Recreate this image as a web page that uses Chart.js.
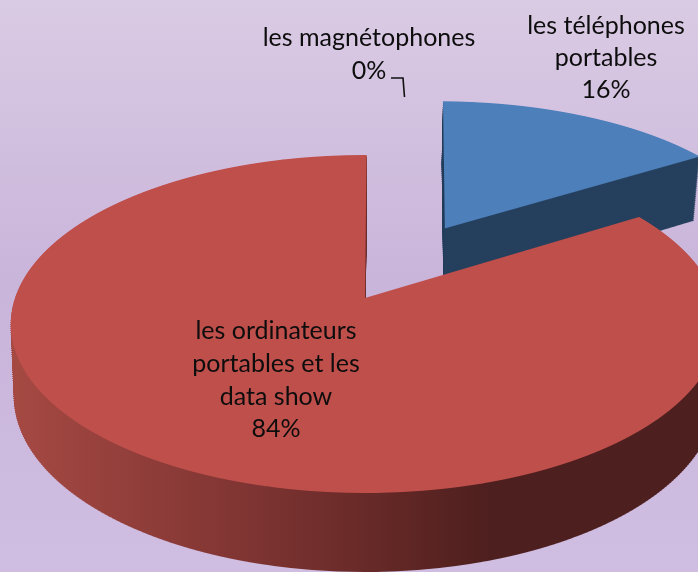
<!DOCTYPE html>
<html><head><meta charset="utf-8">
<style>html,body{margin:0;padding:0;background:#cdb9dd}canvas{display:block}</style>
<script src="https://cdn.jsdelivr.net/npm/chart.js@4"></script>
</head><body>
<canvas id="c" width="698" height="572"></canvas>
<script>
const categories = ["les téléphones portables", "les ordinateurs portables et les data show", "les magnétophones"];
const shares = [16, 84, 0];
const labelLines = [["les téléphones", "portables", "16%"], ["les ordinateurs", "portables et les", "data show", "84%"], ["les magnétophones", "0%"]];
const topColors = ["#4D7FBA", "#BF4F4B", "#9BBB59"];
const wallColors = ["#26405E", null, "#5f7036"];

const labelCentres = [606, 276, 369];
const labelBaselines = [[34, 66, 98], [339, 372, 405, 437], [46, 79]];
const leader = [[391, 78], [403, 78], [404.5, 97]];

// Perspective of the pie's planes: y' = (a*Y+b)/(c*Y+1), x' = cx + r*X/(c*Y+1)
const redTop = {a: -119.15, b: 298, c: 0.1538, r: 350, cx: 365};
const redLow = {a: -115.25, b: 369, c: 0.1534, r: 347, cx: 365};
const blueTop = {a: -122.4, b: 292.1, c: 0.1026, r: 339, cx: 366};
const blueLow = {a: -122.4, b: 362.6, c: 0.1026, r: 333, cx: 366};
const topPlanes = [blueTop, redTop, redTop];
const lowPlanes = [blueLow, redLow, redLow];
const WALL_LAYERS = 80;
const wallStops = [[11, "#A64943"], [240, "#803533"], [400, "#612725"], [490, "#4D1F1E"], [698, "#4D1F1E"]];

function lerpPlane(a, b, t) {
  const o = {};
  for (const k in a) o[k] = a[k] + (b[k] - a[k]) * t;
  return o;
}
function worldY(p, y) { return (y - p.b) / (p.a - p.c * y); }
// Radius the arc element really paints: Chart.js widens an offset arc a little.
function paintedRadius(arc) {
  const shift = (arc.options.offset || 0) / 4;
  return arc.outerRadius + shift * (1 - Math.sin(Math.min(Math.PI, arc.circumference)));
}

function drawPlane(chart, arc, p, step, wallFill) {
  const ctx = chart.ctx, R = paintedRadius(arc), H = chart.height, d = chart.currentDevicePixelRatio || 1;
  for (let y0 = 0; y0 < H; y0 += step) {
    const y1 = y0 + step, Ym = worldY(p, y0 + step / 2);
    if (Math.abs(Ym) > 1.6) continue;
    const w0 = arc.y - worldY(p, y0) * R, w1 = arc.y - worldY(p, y1) * R;
    const sy = (y1 - y0) / (w1 - w0), f = y0 - sy * w0;
    const sx = p.r / (R * (1 + p.c * Ym)), e = p.cx - sx * arc.x;
    ctx.save();
    ctx.setTransform(d, 0, 0, d, 0, 0);
    ctx.beginPath(); ctx.rect(0, y0, chart.width, step); ctx.clip();
    ctx.setTransform(sx * d, 0, 0, sy * d, e * d, f * d);
    const saved = arc.options;
    if (wallFill) {
      arc.options = Object.assign({}, saved, {backgroundColor: wallFill(ctx, sx, e)});
    }
    arc.draw(ctx);
    arc.options = saved;
    ctx.restore();
  }
}

const pie3d = {
  id: "pie3d",
  beforeDraw(chart) {
    const ctx = chart.ctx, g = ctx.createLinearGradient(0, 0, 0, chart.height);
    g.addColorStop(0, "#DACBE4");
    g.addColorStop(0.5, "#C9B4DA");
    g.addColorStop(1, "#D0BEE2");
    ctx.save(); ctx.fillStyle = g; ctx.fillRect(0, 0, chart.width, chart.height); ctx.restore();
  },
  beforeDatasetsDraw(chart) {
    const arcs = chart.getDatasetMeta(0).data;
    arcs.forEach((arc, i) => {
      if (!arc.circumference) return;
      for (let k = WALL_LAYERS; k >= 1; k--) {
        const fill = wallColors[i]
          ? () => wallColors[i]
          : (ctx, sx, e) => {
              const x0 = (wallStops[0][0] - e) / sx, x1 = (wallStops[wallStops.length - 1][0] - e) / sx;
              const g = ctx.createLinearGradient(x0, 0, x1, 0), span = wallStops[wallStops.length - 1][0] - wallStops[0][0];
              wallStops.forEach(s => g.addColorStop((s[0] - wallStops[0][0]) / span, s[1]));
              return g;
            };
        drawPlane(chart, arc, lerpPlane(topPlanes[i], lowPlanes[i], k / WALL_LAYERS), 2, fill);
      }
      drawPlane(chart, arc, topPlanes[i], 1, null);
    });
    return false;
  },
  afterDraw(chart) {
    const ctx = chart.ctx;
    ctx.save();
    ctx.fillStyle = "#0d0d0d"; ctx.textAlign = "center"; ctx.textBaseline = "alphabetic";
    ctx.font = '25px Lato, "Open Sans", sans-serif';
    labelLines.forEach((lines, i) => lines.forEach((t, j) => ctx.fillText(t, labelCentres[i], labelBaselines[i][j])));
    ctx.strokeStyle = "#111"; ctx.lineWidth = 1.6;
    ctx.beginPath();
    leader.forEach((p, i) => i ? ctx.lineTo(p[0], p[1]) : ctx.moveTo(p[0], p[1]));
    ctx.stroke();
    ctx.restore();
  }
};

new Chart(document.getElementById("c"), {
  type: "pie",
  data: {
    labels: categories,
    datasets: [{
      data: shares,
      backgroundColor: topColors,
      borderWidth: 0,
      radius: 350,
      cutout: "0%",
      rotation: 0.3,
      offset: [759, 0, 0]
    }]
  },
  options: {
    responsive: false,
    animation: false,
    events: [],
    plugins: {legend: {display: false}, tooltip: {enabled: false}, title: {display: false}}
  },
  plugins: [pie3d]
});
</script>
</body></html>
